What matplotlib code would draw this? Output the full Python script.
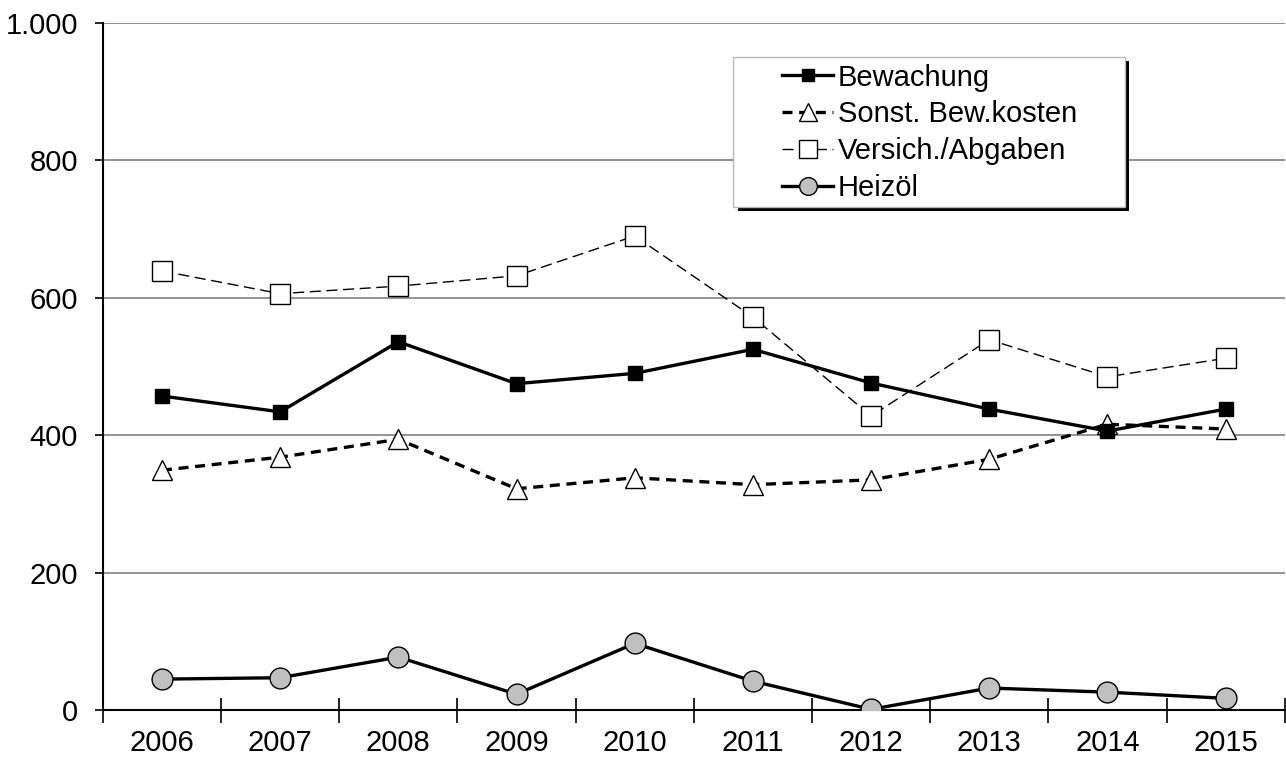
import numpy as np
import matplotlib
matplotlib.use("Agg")
import matplotlib.pyplot as plt
from matplotlib.patches import Rectangle

plt.rcParams['font.family'] = ['Liberation Sans', 'DejaVu Sans']

jahre = ['2006', '2007', '2008', '2009', '2010', '2011', '2012', '2013', '2014', '2015']
bewachung = [457, 434, 536, 475, 490, 525, 476, 438, 406, 438]
sonst_bew = [349, 368, 394, 322, 338, 328, 335, 365, 416, 409]
versich = [639, 606, 617, 632, 690, 572, 428, 539, 485, 512]
heizoel = [45, 47, 77, 23, 97, 42, 1, 32, 26, 17]

x = np.arange(len(jahre))

fig = plt.figure(figsize=(12.86, 7.58), dpi=100)
ax = fig.add_axes([0.080, 0.0633, 0.919, 0.9064])

ax.plot(x, versich, color='black', lw=1, dashes=(8, 4), marker='s', ms=15,
        mfc='white', mec='black', mew=1, label='Versich./Abgaben', zorder=3)
ax.plot(x, sonst_bew, color='black', lw=2.4, dashes=(3, 2), marker='^', ms=15,
        mfc='white', mec='black', mew=1, label='Sonst. Bew.kosten', zorder=4)
ax.plot(x, bewachung, color='black', lw=2.4, marker='s', ms=10,
        mfc='black', mec='black', label='Bewachung', zorder=5)
ax.plot(x, heizoel, color='black', lw=2.4, marker='o', ms=15,
        mfc='#c0c0c0', mec='black', mew=1, label='Heizöl', zorder=5)

ax.set_xlim(-0.5, len(jahre) - 0.5)
ax.set_ylim(0, 1000)
ax.set_yticks(range(0, 1001, 200))
ax.set_yticklabels(['0', '200', '400', '600', '800', '1.000'])
ax.set_xticks(x)
ax.set_xticklabels(jahre)
ax.set_xticks(np.arange(-0.5, len(jahre)), minor=True)
ax.tick_params(axis='x', which='major', length=0, pad=14, labelsize=21)
ax.tick_params(axis='x', which='minor', length=18, width=1.2, direction='inout')
ax.tick_params(axis='y', length=6, width=1.2, direction='out', pad=12, labelsize=21)

ax.grid(axis='y', color='#808080', lw=1.2)
ax.set_axisbelow(True)
for s in ['top', 'right']:
    ax.spines[s].set_visible(False)
ax.spines['left'].set_linewidth(1.5)
ax.spines['bottom'].set_linewidth(1.5)

# legend box with black shadow
bx0, bx1, by0, by1 = 0.533, 0.8646, 0.7322, 0.9505
ax.add_patch(Rectangle((bx0 + 0.004, by0 - 0.006), bx1 - bx0, by1 - by0,
                       transform=ax.transAxes, facecolor='black', edgecolor='none',
                       zorder=8, clip_on=False))
ax.add_patch(Rectangle((bx0, by0), bx1 - bx0, by1 - by0,
                       transform=ax.transAxes, facecolor='white', edgecolor='#b8b8b8',
                       lw=1, zorder=9, clip_on=False))

handles, labels = ax.get_legend_handles_labels()
order = [2, 1, 0, 3]
leg = ax.legend([handles[i] for i in order], [labels[i] for i in order],
                loc='upper left', bbox_to_anchor=(0.575, 0.941), fontsize=21,
                handlelength=1.75, handletextpad=0.15, borderpad=0,
                labelspacing=0.3, frameon=False, borderaxespad=0, markerscale=0.85)
leg.set_zorder(10)

fig.savefig('out.png', dpi=100)
